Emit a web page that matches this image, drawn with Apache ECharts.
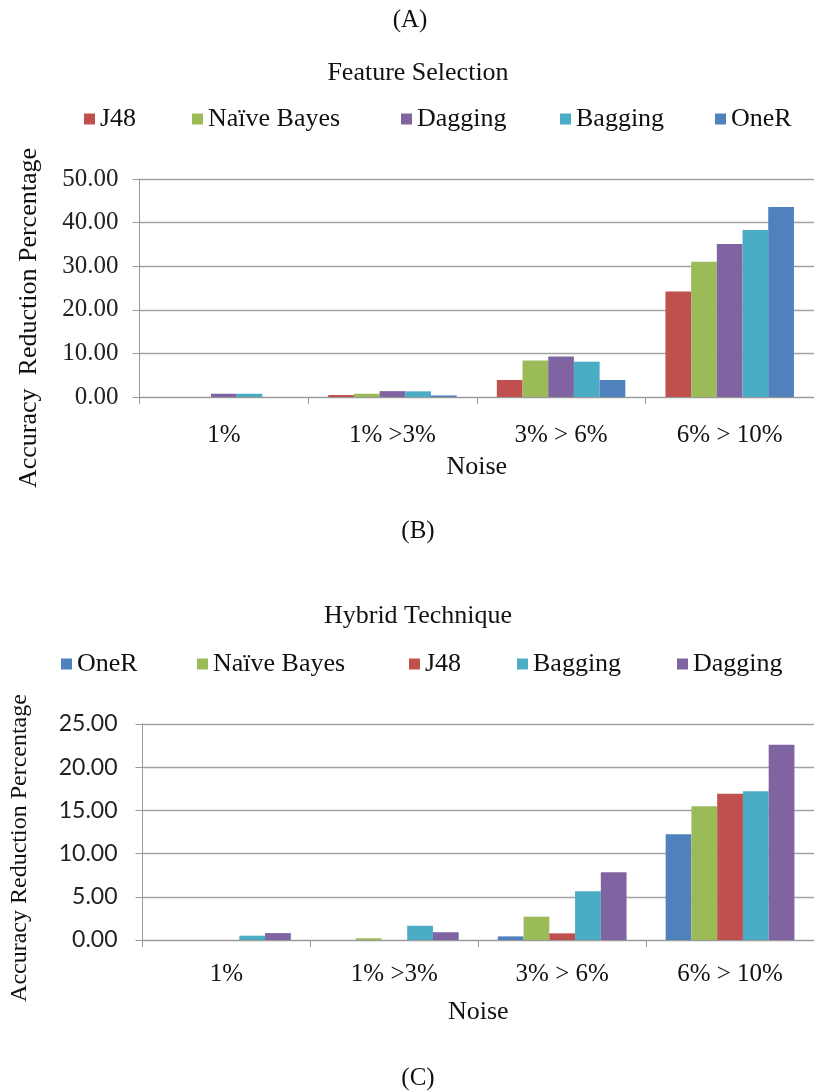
<!DOCTYPE html>
<html>
<head>
<meta charset="utf-8">
<script src="https://cdn.jsdelivr.net/npm/echarts@6/dist/echarts.min.js"></script>
<style>html,body{margin:0;padding:0;background:#fff}#c{width:814px;height:1092px}</style>
</head>
<body>
<div id="c"></div>
<script>
// ---- data ----
var categories = ['1%', '1% >3%', '3% > 6%', '6% > 10%'];
var yTicksTop = [0, 10, 20, 30, 40, 50];
var yTicksBottom = [0, 5, 10, 15, 20, 25];

// (A) Feature Selection
var fsJ48     = [0,    0.45, 3.9, 24.2];
var fsNB      = [0,    0.75, 8.4, 31.0];
var fsDagging = [0.75, 1.35, 9.3, 35.1];
var fsBagging = [0.75, 1.3,  8.1, 38.3];
var fsOneR    = [0,    0.35, 3.9, 43.6];

// (B) Hybrid Technique
var hyOneR    = [0,   0,    0.42, 12.25];
var hyNB      = [0,   0.2,  2.7,  15.47];
var hyJ48     = [0,   0,    0.77, 16.92];
var hyBagging = [0.5, 1.65, 5.65, 17.23];
var hyDagging = [0.8, 0.9,  7.85, 22.59];

var C = {J48:'#C0504D', NB:'#9BBB59', Dagging:'#8064A2', Bagging:'#4BACC6', OneR:'#4F81BD'};
var SERIF = '"Liberation Serif", "DejaVu Serif", serif';
var SANS = 'Lato, "Liberation Sans", sans-serif';

function bar(name, data, color, idx, gap) {
  return {type:'bar', name:name, data:data, xAxisIndex:idx, yAxisIndex:idx,
    barGap:'0%', barCategoryGap:gap, itemStyle:{color:color}};
}
function leg(name, left, top) {
  return {data:[name], left:left, top:top, icon:'rect', itemWidth:11, itemHeight:11,
    itemGap:0, padding:0, textStyle:{fontFamily:SERIF, fontSize:26, color:'#111'}};
}
function xAx(grid, labelMargin, nameGap) {
  return {type:'category', gridIndex:grid, data:categories,
    name:'Noise', nameLocation:'middle', nameGap:nameGap,
    nameTextStyle:{fontFamily:SERIF, fontSize:26, color:'#111'},
    axisLine:{lineStyle:{color:'#999', width:1}},
    axisTick:{show:true, length:7, lineStyle:{color:'#999'}},
    axisLabel:{fontFamily:SERIF, fontSize:25, color:'#111', margin:labelMargin}};
}
function yAx(grid, max, interval, font, size, margin) {
  return {type:'value', gridIndex:grid, min:0, max:max, interval:interval,
    axisLine:{show:true, lineStyle:{color:'#999', width:1}},
    axisTick:{show:true, length:7, lineStyle:{color:'#999'}},
    splitLine:{lineStyle:{color:'#a3a3a3', width:1.3}},
    axisLabel:{fontFamily:font, fontSize:size, color:'#222', margin:margin,
      formatter:function(v){return v.toFixed(2);}}};
}

var chart = echarts.init(document.getElementById('c'), null, {renderer:'canvas'});
chart.setOption({
  animation:false,
  backgroundColor:'#fff',
  title:[
    {text:'(A)', left:410, top:8, textAlign:'center', padding:0, textStyle:{fontFamily:SERIF, fontSize:25, fontWeight:'normal', color:'#111'}},
    {text:'Feature Selection', left:418, top:60, textAlign:'center', padding:0, textStyle:{fontFamily:SERIF, fontSize:26, fontWeight:'normal', color:'#111'}},
    {text:'(B)', left:418, top:519, textAlign:'center', padding:0, textStyle:{fontFamily:SERIF, fontSize:25, fontWeight:'normal', color:'#111'}},
    {text:'Hybrid Technique', left:418, top:603, textAlign:'center', padding:0, textStyle:{fontFamily:SERIF, fontSize:26, fontWeight:'normal', color:'#111'}},
    {text:'(C)', left:418, top:1066, textAlign:'center', padding:0, textStyle:{fontFamily:SERIF, fontSize:25, fontWeight:'normal', color:'#111'}}
  ],
  legend:[
    leg('J48', 84, 106), leg('Naïve Bayes', 192, 106), leg('Dagging', 401, 106), leg('Bagging', 560, 106), leg('OneR', 715, 106),
    leg('OneR', 61, 651), leg('Naïve Bayes', 197, 651), leg('J48', 409, 651), leg('Bagging', 517, 651), leg('Dagging', 677, 651)
  ],
  grid:[
    {left:139.5, top:179, width:682, height:218},
    {left:142.5, top:724, width:678, height:216}
  ],
  xAxis:[xAx(0, 26, 57), xAx(1, 22, 59)],
  yAxis:[yAx(0, 50, 10, SERIF, 25, 21), yAx(1, 25, 5, SANS, 23, 25)],
  graphic:[
    {type:'text', x:29, y:318, rotation:Math.PI/2, style:{text:'Accuracy  Reduction Percentage', fontFamily:SERIF, fontSize:26, fill:'#111', align:'center', verticalAlign:'middle'}},
    {type:'text', x:20, y:848, rotation:Math.PI/2, style:{text:'Accuracy Reduction Percentage', fontFamily:SERIF, fontSize:24, fill:'#111', align:'center', verticalAlign:'middle'}}
  ],
  series:[
    bar('J48', fsJ48, C.J48, 0, '23.8%'),
    bar('Naïve Bayes', fsNB, C.NB, 0, '23.8%'),
    bar('Dagging', fsDagging, C.Dagging, 0, '23.8%'),
    bar('Bagging', fsBagging, C.Bagging, 0, '23.8%'),
    bar('OneR', fsOneR, C.OneR, 0, '23.8%'),
    bar('OneR', hyOneR, C.OneR, 1, '23.3%'),
    bar('Naïve Bayes', hyNB, C.NB, 1, '23.3%'),
    bar('J48', hyJ48, C.J48, 1, '23.3%'),
    bar('Bagging', hyBagging, C.Bagging, 1, '23.3%'),
    bar('Dagging', hyDagging, C.Dagging, 1, '23.3%')
  ]
});
</script>
</body>
</html>
